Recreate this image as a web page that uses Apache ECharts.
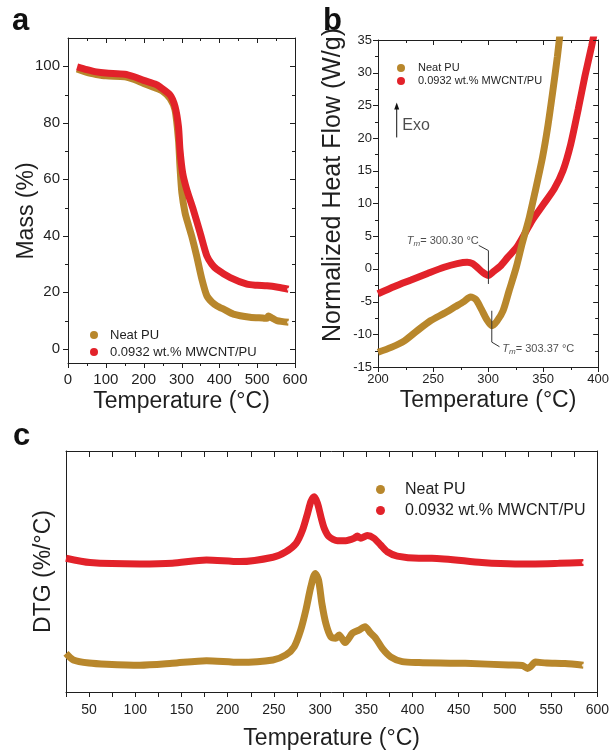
<!DOCTYPE html>
<html>
<head>
<meta charset="utf-8">
<script src="https://cdn.jsdelivr.net/npm/echarts@6/dist/echarts.min.js"></script>
<style>html,body{margin:0;padding:0;background:#fff}#chart{width:612px;height:752px}</style>
</head>
<body>
<div id="chart"></div>
<script>
// ---------- data ----------
const seriesNames = ['Neat PU', '0.0932 wt.% MWCNT/PU'];

// Panel a: TGA mass (%) vs temperature (°C)
const tgaNeatTemp = [24, 50, 75, 100, 150, 175, 200, 230, 250, 270, 283, 292, 296, 301, 309.5, 318, 327, 340, 354, 367, 380, 393, 415, 437, 481, 515, 526, 530, 538, 552, 583];
const tgaNeatMass = [99.0, 97.8, 97.1, 96.6, 96.3, 95.3, 93.9, 92.4, 91.2, 88.6, 84.5, 74.0, 64.5, 55.2, 48.1, 44.0, 39.9, 32.9, 24.6, 18.8, 16.6, 15.3, 13.8, 12.3, 11.2, 10.9, 10.8, 11.6, 11.0, 10.0, 9.4];
const tgaMwcntTemp = [24, 50, 75, 100, 150, 175, 200, 230, 243, 270, 283, 292, 296, 303, 314, 331, 349, 367, 380, 393, 429, 473, 500, 526, 555, 583];
const tgaMwcntMass = [99.8, 98.8, 98.0, 97.6, 97.2, 96.3, 95.0, 93.7, 92.7, 89.8, 85.7, 78.6, 70.4, 62.3, 56.3, 49.3, 41.2, 32.9, 30.0, 28.2, 25.2, 22.9, 22.5, 22.3, 21.8, 21.1];
const tgaXLabels = [0, 100, 200, 300, 400, 500, 600];
const tgaXTicks = [0, 50, 100, 150, 200, 250, 300, 350, 400, 450, 500, 550, 600];
const tgaYLabels = [0, 20, 40, 60, 80, 100];
const tgaYTicks = [0, 10, 20, 30, 40, 50, 60, 70, 80, 90, 100];

// Panel b: DSC normalized heat flow (W/g)
const dscNeatTemp = [200, 212, 224, 236, 248, 260, 270, 278, 284, 289, 294, 299, 303.4, 308, 313.6, 319, 325.6, 331, 337.5, 343, 349.5, 354, 358.5, 363, 366];
const dscNeatFlow = [-12.75, -12.0, -11.0, -9.4, -7.9, -6.8, -5.8, -5.0, -4.3, -4.7, -6.2, -7.8, -8.7, -8.0, -6.4, -3.4, 0.25, 3.9, 7.9, 12.0, 17.1, 21.5, 26.8, 32.5, 37.0];
const dscMwcntTemp = [200, 215, 230, 245, 260, 272, 281, 286, 290, 295, 300.3, 305, 311, 318, 326, 333, 340, 350, 360, 368, 375, 382, 388, 394, 400];
const dscMwcntFlow = [-3.8, -2.7, -1.7, -0.7, 0.25, 0.8, 1.0, 0.8, 0.25, -0.5, -1.0, -0.4, 0.4, 1.8, 3.3, 5.3, 7.4, 9.8, 12.2, 15.0, 19.0, 24.5, 29.5, 34.0, 39.0];
const dscXLabels = [200, 250, 300, 350, 400];
const dscXTicks = [200, 225, 250, 275, 300, 325, 350, 375, 400];
const dscYLabels = [-15, -10, -5, 0, 5, 10, 15, 20, 25, 30, 35];
const dscYTicks = [-15, -12.5, -10, -7.5, -5, -2.5, 0, 2.5, 5, 7.5, 10, 12.5, 15, 17.5, 20, 22.5, 25, 27.5, 30, 32.5, 35];
const tmMwcnt = 300.30;
const tmNeat = 303.37;

// Panel c: DTG (arbitrary offset units)
const dtgNeatTemp = [25, 33, 50, 69, 105, 140, 177, 213, 249, 263, 272, 279, 284.6, 290, 294.7, 298.3, 301.9, 306.2, 311.6, 317, 320.6, 327, 335, 342, 348.6, 354.8, 360.2, 367.3, 376.3, 388.9, 407, 430, 457, 504, 519, 524.5, 528, 533, 545, 565, 585];
const dtgNeatVal = [16.0, 13.3, 12.0, 11.5, 11.1, 11.9, 13.0, 12.3, 13.3, 15.4, 18.8, 25.7, 34.0, 43.7, 49.2, 46.5, 36.8, 28.5, 22.9, 22.3, 23.7, 20.5, 24.4, 25.7, 27.1, 24.4, 22.3, 18.1, 14.6, 12.6, 12.2, 12.0, 11.9, 11.2, 11.0, 9.8, 10.6, 12.4, 12.0, 11.8, 11.1];
const dtgMwcntTemp = [25, 51, 105, 140, 177, 213, 249, 263, 274, 281, 286.4, 290, 293.6, 297.2, 300.9, 304.5, 309.8, 318.8, 327.8, 336.8, 340.3, 344, 351, 358.3, 365.5, 372.7, 383.5, 407, 421, 475, 511, 558, 585];
const dtgMwcntVal = [55.5, 53.7, 53.1, 53.4, 54.8, 54.1, 55.9, 58.2, 61.7, 67.2, 74.1, 79.0, 81.0, 78.3, 72.7, 67.9, 64.4, 62.8, 62.8, 63.8, 64.7, 63.8, 64.9, 63.8, 61.0, 58.2, 56.4, 55.5, 55.5, 53.7, 53.1, 53.4, 53.7];
const dtgXLabels = [50, 100, 150, 200, 250, 300, 350, 400, 450, 500, 550, 600];
const dtgXTicks = [25, 50, 75, 100, 125, 150, 175, 200, 225, 250, 275, 300, 325, 350, 375, 400, 425, 450, 475, 500, 525, 550, 575, 600];

// axis ranges
const tgaX = [0, 600], tgaY = [-5, 110];
const dscX = [200, 400], dscY = [-15, 35];
const dtgX = [25, 600], dtgY = [0, 100];

// ---------- helpers ----------
const INK = '#1f1f1f';
const FONT = "'Liberation Sans', Arial, Helvetica, sans-serif";
const GOLD = '#b8872c';
const RED = '#e2222a';
const zip = (xs, ys) => xs.map((x, i) => [x, ys[i]]);
const last = (xs, ys) => [[xs[xs.length - 1], ys[ys.length - 1]]];

function mkAxis(p) {
  const a = {
    type: 'value', gridIndex: p.grid, position: p.pos, min: p.range[0], max: p.range[1],
    splitLine: {show: false},
    axisLine: {show: true, onZero: false, lineStyle: {color: INK, width: 1}},
    axisTick: {show: !!p.ticks, inside: !!p.inside, length: p.tickLen || 5, lineStyle: {color: INK, width: 1}},
    axisLabel: {show: !!p.labels, color: INK, fontFamily: FONT, fontSize: p.fontSize || 14, margin: p.margin == null ? 8 : p.margin},
    minorTick: {show: false}
  };
  if (p.ticks) a.axisTick.customValues = p.ticks;
  if (p.labels) a.axisLabel.customValues = p.labels;
  if (p.name) {
    a.name = p.name; a.nameLocation = 'middle'; a.nameGap = p.nameGap;
    a.nameTextStyle = {fontFamily: FONT, fontSize: p.nameSize || 23, color: INK};
  }
  return a;
}

// Frame ticks (outward on bottom/left, inward on top/right), positioned through the axes' own scales
function frameTicks(xi, yi, dim, values, majors, xr, yr) {
  const data = dim === 'x' ? values.map(v => [v, yr[0]]) : values.map(v => [xr[0], v]);
  return {
    type: 'custom', xAxisIndex: xi, yAxisIndex: yi, silent: true, z: 10, clip: false, data: data,
    renderItem: function (params, api) {
      const v = api.value(dim === 'x' ? 0 : 1);
      const len = majors.indexOf(v) >= 0 ? 5 : 3;
      const st = {stroke: INK, lineWidth: 1};
      if (dim === 'x') {
        const b = api.coord([v, yr[0]]), t = api.coord([v, yr[1]]);
        const x = Math.round(b[0]) + 0.5;
        return {type: 'group', children: [
          {type: 'line', shape: {x1: x, y1: b[1], x2: x, y2: b[1] + len}, style: st},
          {type: 'line', shape: {x1: x, y1: t[1], x2: x, y2: t[1] + len}, style: st}
        ]};
      }
      const l = api.coord([xr[0], v]), r = api.coord([xr[1], v]);
      const y = Math.round(l[1]) + 0.5;
      return {type: 'group', children: [
        {type: 'line', shape: {x1: l[0] - len, y1: y, x2: l[0], y2: y}, style: st},
        {type: 'line', shape: {x1: r[0] - len, y1: y, x2: r[0], y2: y}, style: st}
      ]};
    }
  };
}

function lineSeries(name, xi, yi, xs, ys, color, z, width) {
  return {
    type: 'line', name: name, xAxisIndex: xi, yAxisIndex: yi,
    data: zip(xs, ys), showSymbol: false, smooth: 0.25,
    lineStyle: {color: color, width: width || 7}, itemStyle: {color: color},
    z: z, silent: true, clip: true
  };
}
function endDot(xi, yi, xs, ys) {
  return {type: 'scatter', xAxisIndex: xi, yAxisIndex: yi, data: last(xs, ys),
    symbolSize: 3, itemStyle: {color: '#ffffff'}, z: 6, silent: true};
}
function textMark(xi, yi, pt, text, pos, size, rich) {
  return {type: 'scatter', xAxisIndex: xi, yAxisIndex: yi, data: [pt], symbolSize: 0, z: 8, silent: true,
    label: {show: true, position: pos, distance: 0, formatter: text, color: INK, fontFamily: FONT, fontSize: size, rich: rich}};
}
function legend(left, top, fontSize, gap, iconSize, textPad) {
  return {data: seriesNames, orient: 'vertical', left: left, top: top, icon: 'circle',
    itemWidth: iconSize, itemHeight: iconSize, itemGap: gap, selectedMode: false,
    textStyle: {fontFamily: FONT, fontSize: fontSize, lineHeight: fontSize + 1, color: INK, padding: [0, 0, 0, textPad]}};
}

const tmRich = {
  t: {fontStyle: 'italic', fontSize: 11, fontFamily: FONT, color: INK},
  s: {fontStyle: 'italic', fontSize: 8, fontFamily: FONT, color: INK, padding: [6, 0, 0, 0]},
  n: {fontSize: 11, fontFamily: FONT, color: INK}
};
const tmText = v => '{t|T}{s|m}{n|= ' + v.toFixed(2) + ' °C}';

// ---------- option ----------
const option = {
  animation: false,
  backgroundColor: '#ffffff',
  grid: [
    {left: 68, top: 38, width: 227, height: 325},
    {left: 378, top: 40, width: 223, height: 327},
    {left: 66, top: 451, width: 533, height: 241}
  ],
  xAxis: [
    mkAxis({grid: 0, pos: 'bottom', range: tgaX, labels: tgaXLabels, fontSize: 15, margin: 9, name: 'Temperature (°C)', nameGap: 27}),
    mkAxis({grid: 0, pos: 'top', range: tgaX}),
    mkAxis({grid: 1, pos: 'bottom', range: dscX, labels: dscXLabels, fontSize: 13, margin: 6, name: 'Temperature (°C)', nameGap: 22}),
    mkAxis({grid: 1, pos: 'top', range: dscX}),
    mkAxis({grid: 2, pos: 'bottom', range: dtgX, ticks: dtgXTicks, labels: dtgXLabels, fontSize: 14, margin: 11, tickLen: 5, name: 'Temperature (°C)', nameGap: 35}),
    mkAxis({grid: 2, pos: 'top', range: dtgX, ticks: dtgXTicks, inside: true, tickLen: 6})
  ],
  yAxis: [
    mkAxis({grid: 0, pos: 'left', range: tgaY, labels: tgaYLabels, fontSize: 15, margin: 8}),
    mkAxis({grid: 0, pos: 'right', range: tgaY}),
    mkAxis({grid: 1, pos: 'left', range: dscY, labels: dscYLabels, fontSize: 13, margin: 6}),
    mkAxis({grid: 1, pos: 'right', range: dscY}),
    mkAxis({grid: 2, pos: 'left', range: dtgY, name: 'DTG (%/°C)', nameGap: 11}),
    mkAxis({grid: 2, pos: 'right', range: dtgY})
  ],
  legend: [
    legend(85, 323, 13, 3, 8, 7),
    legend(392, 57, 11, 1, 8, 8),
    legend(371, 476, 16, 4, 9, 15)
  ],
  graphic: [
    {type: 'text', left: 12, top: 6, style: {text: 'a', font: "bold 31px 'Liberation Sans', Arial, sans-serif", fill: '#111'}},
    {type: 'text', left: 323, top: 6, style: {text: 'b', font: "bold 31px 'Liberation Sans', Arial, sans-serif", fill: '#111'}},
    {type: 'text', left: 13, top: 421, style: {text: 'c', font: "bold 31px 'Liberation Sans', Arial, sans-serif", fill: '#111'}},
    {type: 'text', x: 27, y: 211, rotation: Math.PI / 2,
      style: {text: 'Mass (%)', font: "23px 'Liberation Sans', Arial, sans-serif", fill: INK, align: 'center', verticalAlign: 'middle'}},
    {type: 'text', x: 333, y: 185, rotation: Math.PI / 2,
      style: {text: 'Normalized Heat Flow (W/g)', font: "25px 'Liberation Sans', Arial, sans-serif", fill: INK, align: 'center', verticalAlign: 'middle'}}
  ],
  series: [
    // panel a
    lineSeries(seriesNames[0], 0, 0, tgaNeatTemp, tgaNeatMass, GOLD, 2),
    lineSeries(seriesNames[1], 0, 0, tgaMwcntTemp, tgaMwcntMass, RED, 3),
    endDot(0, 0, tgaNeatTemp, tgaNeatMass),
    endDot(0, 0, tgaMwcntTemp, tgaMwcntMass),
    frameTicks(0, 0, 'x', tgaXTicks, tgaXLabels, tgaX, tgaY),
    frameTicks(0, 0, 'y', tgaYTicks, tgaYLabels, tgaX, tgaY),
    // panel b
    lineSeries(seriesNames[1], 2, 2, dscMwcntTemp, dscMwcntFlow, RED, 2),
    lineSeries(seriesNames[0], 2, 2, dscNeatTemp, dscNeatFlow, GOLD, 3),
    frameTicks(2, 2, 'x', dscXTicks, dscXLabels, dscX, dscY),
    frameTicks(2, 2, 'y', dscYTicks, dscYLabels, dscX, dscY),
    {type: 'line', xAxisIndex: 2, yAxisIndex: 2, showSymbol: false, silent: true, z: 7,
      lineStyle: {color: '#333', width: 1},
      data: [[tmMwcnt - 8.8, 3.6], [tmMwcnt, 2.8], [tmMwcnt, -2.3]]},
    {type: 'line', xAxisIndex: 2, yAxisIndex: 2, showSymbol: false, silent: true, z: 7,
      lineStyle: {color: '#333', width: 1},
      data: [[tmNeat, -6.4], [tmNeat, -11.2], [tmNeat + 7, -11.9]]},
    // Exo arrow
    {type: 'line', xAxisIndex: 2, yAxisIndex: 2, silent: true, z: 7, symbol: 'none', showSymbol: true,
      lineStyle: {color: '#111', width: 1}, itemStyle: {color: '#111'},
      data: [[217, 20.1], {value: [217, 24.6], symbol: 'triangle', symbolSize: [5, 7], symbolOffset: [0, -2]}]},
    textMark(2, 2, [tmMwcnt - 8.8, 4.3], tmText(tmMwcnt), 'left', 11, tmRich),
    textMark(2, 2, [tmNeat + 9.6, -12.25], tmText(tmNeat), 'right', 11, tmRich),
    textMark(2, 2, [222, 21.9], 'Exo', 'right', 16),
    // panel c
    lineSeries(seriesNames[0], 4, 4, dtgNeatTemp, dtgNeatVal, GOLD, 2),
    lineSeries(seriesNames[1], 4, 4, dtgMwcntTemp, dtgMwcntVal, RED, 3),
    endDot(4, 4, dtgNeatTemp, dtgNeatVal),
    endDot(4, 4, dtgMwcntTemp, dtgMwcntVal)
  ]
};

const chart = echarts.init(document.getElementById('chart'), null, {renderer: 'canvas'});
chart.setOption(option);
</script>
</body>
</html>
